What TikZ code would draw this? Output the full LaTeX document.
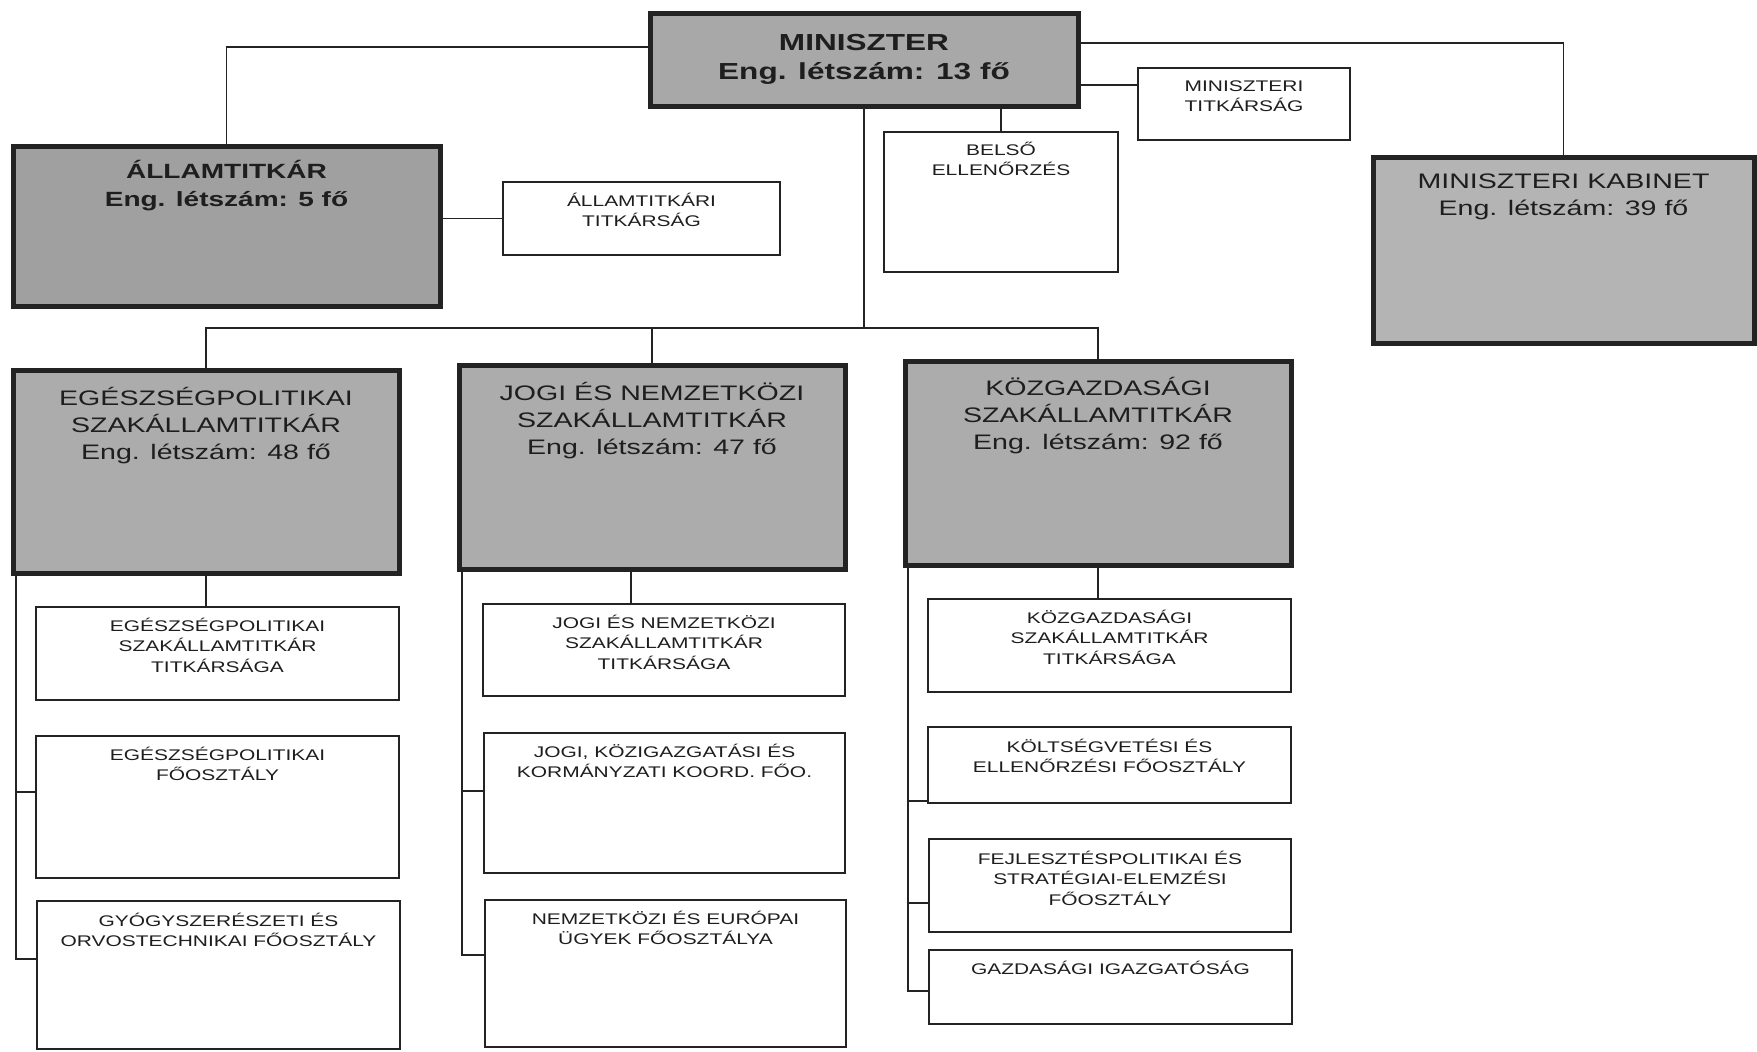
\documentclass[tikz,border=0pt]{standalone}
\usepackage{fontspec}
\setmainfont{Liberation Sans}[FakeStretch=1.36]
\definecolor{linec}{RGB}{35,35,35}
\definecolor{txtc}{RGB}{30,30,30}
\definecolor{mingray}{RGB}{168,168,168}
\definecolor{allamgray}{RGB}{160,160,160}
\definecolor{subgray}{RGB}{172,172,172}
\definecolor{kabgray}{RGB}{180,180,180}
% #1 font size, #2 baseline skip, #3 width, #4 height, #5 first baseline from top, #6 text
\newcommand\boxtext[6]{\parbox[c][#4][t]{#3}{\centering\fontsize{#1}{#2}\selectfont\color{txtc}\rule{0pt}{#5}#6}}
\newcommand\bigt[4]{\boxtext{10.5pt}{13.5pt}{#1}{#2}{#3}{#4}}
\newcommand\smallt[4]{\boxtext{7.7pt}{10.4pt}{#1}{#2}{#3}{#4}}
\tikzset{
  thickbox/.style={draw=linec, line width=2.5pt, inner sep=0pt, outer sep=0pt},
  thinbox/.style={draw=linec, line width=1pt, fill=white, inner sep=0pt, outer sep=0pt},
  conn/.style={draw=linec, line width=0.75pt},
}
\begin{document}
\begin{tikzpicture}[x=0.5pt,y=-0.5pt]
\useasboundingbox[fill=white] (0,0) rectangle (1757,1051);

% --- top level ---
\node[thickbox, fill=mingray] (min) at (864,59.5)
  {\boxtext{11.6pt}{14.75pt}{214pt}{46.5pt}{18.5pt}{\bfseries MINISZTER\\Eng. létszám: 13 fő}};
\node[thickbox, fill=allamgray] (allam) at (226.5,226)
  {\boxtext{10.3pt}{14pt}{213.5pt}{80pt}{16pt}{\bfseries ÁLLAMTITKÁR\\Eng. létszám: 5 fő}};
\node[thinbox] (att) at (641.5,218.5)
  {\smallt{138.5pt}{36.5pt}{12pt}{ÁLLAMTITKÁRI\\TITKÁRSÁG}};
\node[thinbox] (mt) at (1244,104)
  {\smallt{106pt}{36pt}{11.5pt}{MINISZTERI\\TITKÁRSÁG}};
\node[thinbox] (bel) at (1001,202)
  {\smallt{117pt}{70pt}{11.5pt}{BELSŐ\\ELLENŐRZÉS}};
\node[thickbox, fill=kabgray] (kab) at (1563.5,250)
  {\bigt{190.5pt}{93pt}{15.5pt}{MINISZTERI KABINET\\Eng. létszám: 39 fő}};

% --- deputy state secretaries ---
\node[thickbox, fill=subgray] (egb) at (206,471.5)
  {\bigt{193pt}{101.5pt}{17.5pt}{EGÉSZSÉGPOLITIKAI\\SZAKÁLLAMTITKÁR\\Eng. létszám: 48 fő}};
\node[thickbox, fill=subgray] (jgb) at (652,467)
  {\bigt{193pt}{102pt}{17.5pt}{JOGI ÉS NEMZETKÖZI\\SZAKÁLLAMTITKÁR\\Eng. létszám: 47 fő}};
\node[thickbox, fill=subgray] (kgb) at (1098,463)
  {\bigt{193pt}{102pt}{17pt}{KÖZGAZDASÁGI\\SZAKÁLLAMTITKÁR\\Eng. létszám: 92 fő}};

% --- departments ---
\node[thinbox] (eg1) at (217.5,653.5)
  {\smallt{181.5pt}{46.5pt}{12pt}{EGÉSZSÉGPOLITIKAI\\SZAKÁLLAMTITKÁR\\TITKÁRSÁGA}};
\node[thinbox] (eg2) at (217.5,807)
  {\smallt{181.5pt}{71pt}{12pt}{EGÉSZSÉGPOLITIKAI\\FŐOSZTÁLY}};
\node[thinbox] (eg3) at (218.5,975)
  {\smallt{181.5pt}{74pt}{12.5pt}{GYÓGYSZERÉSZETI ÉS\\ORVOSTECHNIKAI FŐOSZTÁLY}};

\node[thinbox] (jg1) at (664,650)
  {\smallt{181pt}{46pt}{12pt}{JOGI ÉS NEMZETKÖZI\\SZAKÁLLAMTITKÁR\\TITKÁRSÁGA}};
\node[thinbox] (jg2) at (664.5,803)
  {\smallt{180.5pt}{70pt}{12pt}{JOGI, KÖZIGAZGATÁSI ÉS\\KORMÁNYZATI KOORD. FŐO.}};
\node[thinbox] (jg3) at (665.5,973.5)
  {\smallt{180.5pt}{73.5pt}{12pt}{NEMZETKÖZI ÉS EURÓPAI\\ÜGYEK FŐOSZTÁLYA}};

\node[thinbox] (kg1) at (1109.5,645.5)
  {\smallt{181.5pt}{46.5pt}{12pt}{KÖZGAZDASÁGI\\SZAKÁLLAMTITKÁR\\TITKÁRSÁGA}};
\node[thinbox] (kg2) at (1109.5,765)
  {\smallt{181.5pt}{38pt}{12.5pt}{KÖLTSÉGVETÉSI ÉS\\ELLENŐRZÉSI FŐOSZTÁLY}};
\node[thinbox] (kg3) at (1110,885.5)
  {\smallt{181pt}{46.5pt}{12.5pt}{FEJLESZTÉSPOLITIKAI ÉS\\STRATÉGIAI-ELEMZÉSI\\FŐOSZTÁLY}};
\node[thinbox] (kg4) at (1110.5,987)
  {\smallt{181.5pt}{37pt}{12pt}{GAZDASÁGI IGAZGATÓSÁG}};

% --- helper coordinates for connector routes ---
\coordinate (yl) at (0,47);
\coordinate (yr) at (0,43);
\coordinate (ymt) at (0,85);
\coordinate (bar) at (0,328);
\coordinate (jd) at (631,0);
\coordinate (ebt) at (16,573);  \coordinate (et2) at (16,792);  \coordinate (ebb) at (16,959);
\coordinate (jbt) at (462,569); \coordinate (jt2) at (462,791); \coordinate (jbb) at (462,955);
\coordinate (kbt) at (908,565); \coordinate (kt2) at (908,801); \coordinate (kt3) at (908,903); \coordinate (kbb) at (908,991);

% --- connectors ---
\draw[conn] (min.west |- yl) -| (allam.north);
\draw[conn] (min.east |- yr) -| (kab.north);
\draw[conn] (min.east |- ymt) -- (mt.west |- ymt);
\draw[conn] (allam.east |- att.west) -- (att.west);
\draw[conn] (min.south -| bel.north) -- (bel.north);
\draw[conn] (min.south) -- (min.south |- bar);
\draw[conn] (egb.north) -- (egb.north |- bar) -- (kgb.north |- bar) -- (kgb.north);
\draw[conn] (jgb.north |- bar) -- (jgb.north);

\draw[conn] (egb.south) -- (egb.south |- eg1.north);
\draw[conn] (jgb.south -| jd) -- (jg1.north -| jd);
\draw[conn] (kgb.south) -- (kgb.south |- kg1.north);

\draw[conn] (ebt) |- (eg3.west |- ebb);
\draw[conn] (et2) -- (eg2.west |- et2);
\draw[conn] (jbt) |- (jg3.west |- jbb);
\draw[conn] (jt2) -- (jg2.west |- jt2);
\draw[conn] (kbt) |- (kg4.west |- kbb);
\draw[conn] (kt2) -- (kg2.west |- kt2);
\draw[conn] (kt3) -- (kg3.west |- kt3);
\end{tikzpicture}
\end{document}
